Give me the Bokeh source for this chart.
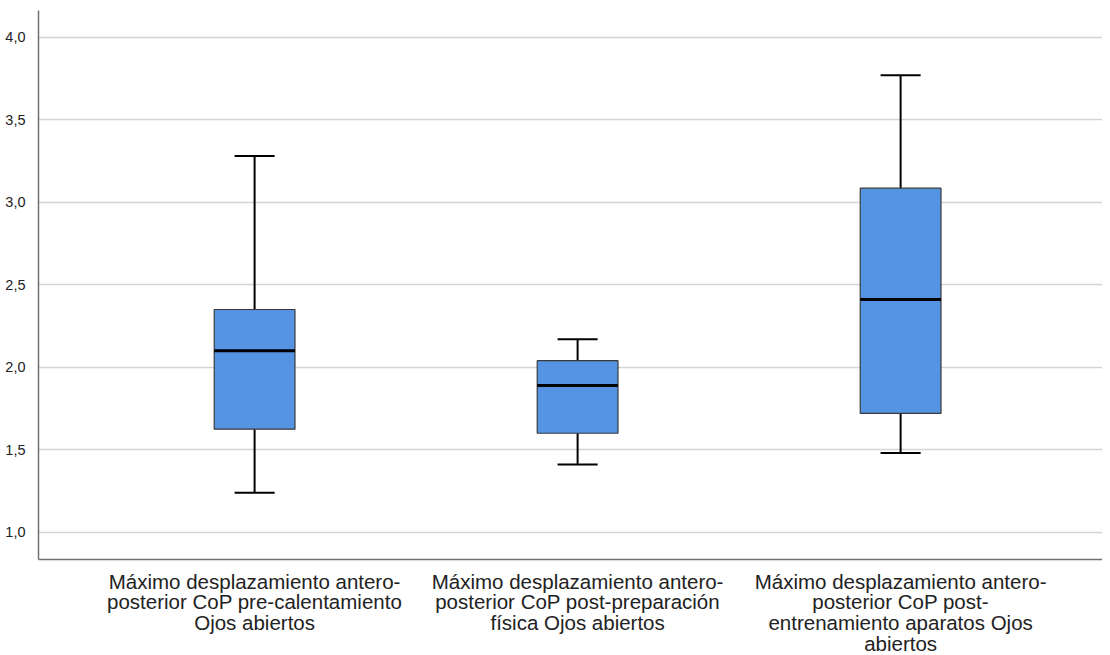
from bokeh.plotting import figure
from bokeh.models import FixedTicker, Range1d, ColumnDataSource
from bokeh.embed import file_html
from bokeh.resources import INLINE

# Data
categories = [
    "Máximo desplazamiento antero-\nposterior CoP pre-calentamiento\nOjos abiertos",
    "Máximo desplazamiento antero-\nposterior CoP post-preparación\nfísica Ojos abiertos",
    "Máximo desplazamiento antero-\nposterior CoP post-\nentrenamiento aparatos Ojos\nabiertos",
]
positions = [1, 2, 3]
lower_whisker = [1.24, 1.41, 1.48]
q1 = [1.625, 1.60, 1.72]
median = [2.10, 1.89, 2.41]
q3 = [2.35, 2.04, 3.085]
upper_whisker = [3.28, 2.17, 3.77]

y_ticks = [1.0, 1.5, 2.0, 2.5, 3.0, 3.5, 4.0]
y_tick_labels = ["1,0", "1,5", "2,0", "2,5", "3,0", "3,5", "4,0"]

box_width = 0.25
cap_width = 0.124

p = figure(
    width=1102, height=655,
    frame_width=1064, frame_height=549,
    x_range=Range1d(0.331, 3.625),
    y_range=Range1d(0.835, 4.162),
    output_backend="svg", toolbar_location=None,
    min_border_left=38, min_border_top=10, min_border_right=0, min_border_bottom=96,
)
p.outline_line_color = None
p.background_fill_color = "white"

src = ColumnDataSource(dict(
    x=positions, lw=lower_whisker, q1=q1, med=median, q3=q3, uw=upper_whisker,
    cl=[x - cap_width / 2 for x in positions], cr=[x + cap_width / 2 for x in positions],
    bl=[x - box_width / 2 for x in positions], br=[x + box_width / 2 for x in positions],
))

# whiskers
p.segment(x0="x", y0="q3", x1="x", y1="uw", source=src, line_color="black", line_width=2)
p.segment(x0="x", y0="q1", x1="x", y1="lw", source=src, line_color="black", line_width=2)
p.segment(x0="cl", y0="uw", x1="cr", y1="uw", source=src, line_color="black", line_width=2)
p.segment(x0="cl", y0="lw", x1="cr", y1="lw", source=src, line_color="black", line_width=2)
# boxes
p.vbar(x="x", width=box_width, bottom="q1", top="q3", source=src,
       fill_color="#5494e2", line_color="#3a3a3a", line_width=1.2)
# medians
p.segment(x0="bl", y0="med", x1="br", y1="med", source=src, line_color="black", line_width=3)

# grid
p.xgrid.visible = False
p.ygrid.ticker = FixedTicker(ticks=y_ticks)
p.ygrid.grid_line_color = "#d4d4d4"
p.ygrid.grid_line_width = 1.5

# y axis
p.yaxis.ticker = FixedTicker(ticks=y_ticks)
p.yaxis.major_label_overrides = {t: l for t, l in zip(y_ticks, y_tick_labels)}
p.yaxis.major_tick_line_color = None
p.yaxis.minor_tick_line_color = None
p.yaxis.axis_line_color = "#707070"
p.yaxis.axis_line_width = 1.5
p.yaxis.major_label_text_font = "Liberation Sans"
p.yaxis.major_label_text_font_size = "14.5px"
p.yaxis.major_label_text_color = "#222222"
p.yaxis.major_label_standoff = 7

# x axis
p.xaxis.ticker = FixedTicker(ticks=positions)
p.xaxis.major_label_overrides = {pos: c for pos, c in zip(positions, categories)}
p.xaxis.major_tick_line_color = None
p.xaxis.minor_tick_line_color = None
p.xaxis.axis_line_color = "#707070"
p.xaxis.axis_line_width = 1.5
p.xaxis.major_label_text_font = "Liberation Sans"
p.xaxis.major_label_text_font_size = "20.5px"
p.xaxis.major_label_text_color = "#222222"
p.xaxis.major_label_text_line_height = 0.9
p.xaxis.major_label_standoff = 4

open("out.html", "w").write(file_html(p, INLINE))
